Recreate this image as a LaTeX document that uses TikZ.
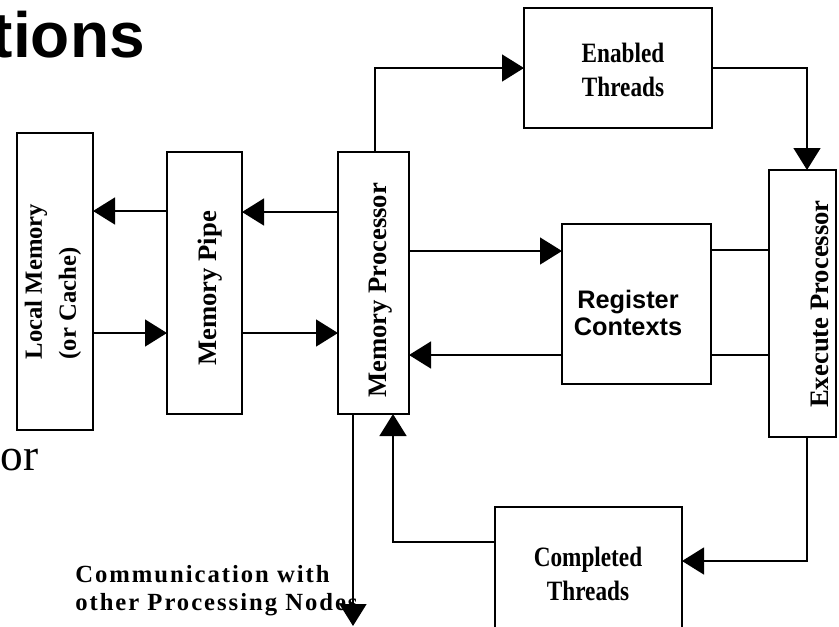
\documentclass[tikz,border=0pt]{standalone}
\usepackage{fontspec}
\setmainfont{Liberation Serif}
\newfontfamily\sansb{Liberation Sans}
\newfontfamily\serifcond{Liberation Serif}[FakeStretch=0.83]
\usetikzlibrary{arrows.meta}

\begin{document}
\begin{tikzpicture}[x=0.75pt,y=-0.75pt,
  box/.style={draw, line width=1.9pt, inner sep=0pt, outer sep=0pt},
  link/.style={line width=2pt},
  arr/.style={link, -{Triangle[length=16.5pt,width=20pt]}},
  vlabel/.style={rotate=90, anchor=base, inner sep=0pt,
    font=\fontsize{20}{24}\selectfont\bfseries},
  condlabel/.style={inner sep=0pt, align=center,
    font=\serifcond\fontsize{21}{25}\selectfont\bfseries},
]
\useasboundingbox (0,0) rectangle (839,626);

% headline fragments at the left edge
\node[anchor=base east, inner sep=0pt,
  font=\sansb\fontsize{48}{48}\selectfont\bfseries] (title) at (145,57) {tions};
\node[anchor=base east, inner sep=0pt,
  font=\fontsize{34}{34}\selectfont] (orword) at (39,470) {or};

% blocks
\node[box, minimum width=57pt,    minimum height=222.75pt] (lm)    at (55,281.5)  {};
\node[box, minimum width=56.25pt, minimum height=196.5pt]  (mp)    at (204.5,283) {};
\node[box, minimum width=53.25pt, minimum height=196.5pt]  (mproc) at (373.5,283) {};
\node[box, minimum width=141pt,   minimum height=90pt]     (en)    at (618,68)    {};
\node[box, minimum width=111.75pt,minimum height=120pt]    (reg)   at (636.5,304) {};
\node[box, minimum width=50.25pt, minimum height=200.25pt] (ex)    at (802.5,303.5) {};
\node[box, minimum width=140.25pt,minimum height=103.5pt]  (comp)  at (588.5,576) {};

% block labels
\node[rotate=90, inner sep=0pt, align=left,
  font=\fontsize{18.5}{25.5}\selectfont\bfseries] (lmT) at (53,281.5)
  {Local Memory\\(or Cache)};
\node[vlabel] (mpT)    at (216,288.5) {Memory Pipe};
\node[vlabel] (mprocT) at (386,290.5) {Memory Processor};
\node[vlabel] (exT)    at (828,304)   {Execute Processor};
\node[condlabel] (enT)   at (623,70)  {Enabled\\Threads};
\node[condlabel] (compT) at (588,574) {Completed\\Threads};
\node[inner sep=0pt, align=center,
  font=\sansb\fontsize{19}{20}\selectfont\bfseries] (regT) at (628,313)
  {Register\\Contexts};

% memory side
\draw[arr] (mp.west |- 0,211) -- (lm.east |- 0,211);
\draw[arr] (lm.east |- 0,333) -- (mp.west |- 0,333);
\draw[arr] (mproc.west |- 0,212) -- (mp.east |- 0,212);
\draw[arr] (mp.east |- 0,333) -- (mproc.west |- 0,333);

% thread loop
\draw[arr] (mproc.north -| 375,0) |- (en.west);
\draw[arr] (en.east) -| (ex.north -| 807,0);
\draw[arr] (mproc.east |- 0,251) -- (reg.west |- 0,251);
\draw[arr] (reg.west |- 0,355) -- (mproc.east |- 0,355);
\draw[link] (reg.east |- 0,250) -- (ex.west |- 0,250);
\draw[link] (reg.east |- 0,355) -- (ex.west |- 0,355);
\draw[arr] (ex.south -| 807,0) |- (comp.east |- 0,561);
\draw[arr] (comp.west |- 0,542) -| (mproc.south -| 393,0);

% link to the other nodes
\coordinate (commEnd) at (353,626);
\draw[arr] (mproc.south -| commEnd) -- (commEnd);
\node[anchor=north west, inner sep=0pt, align=left,
  font=\fontsize{18.5}{21}\selectfont\bfseries\addfontfeature{LetterSpace=8}]
  (comm) at (75,565) {Communication with\\other Processing Nodes};
\end{tikzpicture}
\end{document}
